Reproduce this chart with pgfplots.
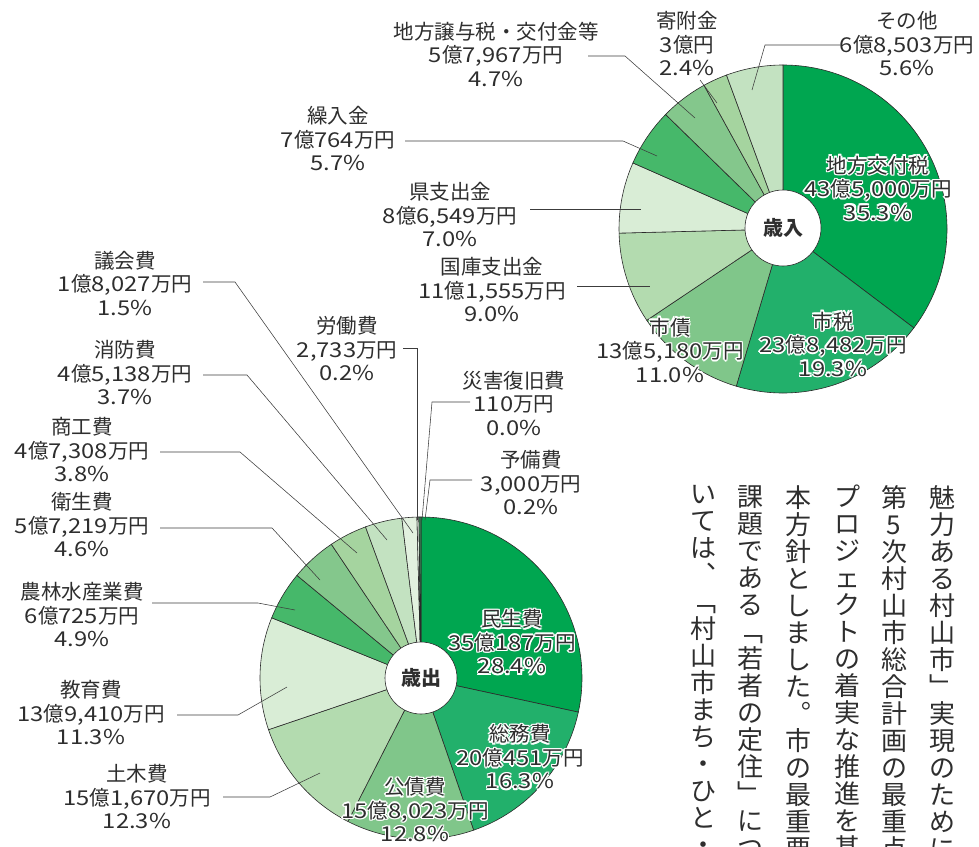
\documentclass[border=0pt]{standalone}
\usepackage{fontspec}
\setmainfont{Noto Sans CJK JP}
\newfontfamily\numf{Noto Sans CJK JP}[FakeStretch=1.16]
\newcommand{\nm}[1]{{\numf #1}}
\usepackage{pgfplots}
\pgfplotsset{compat=1.18}
\definecolor{cA}{HTML}{00A650}
\definecolor{cB}{HTML}{22B06B}
\definecolor{cC}{HTML}{80C68A}
\definecolor{cD}{HTML}{B3DBAF}
\definecolor{cE}{HTML}{D9EDD6}
\definecolor{cF}{HTML}{46B86A}
\definecolor{cG}{HTML}{84C78C}
\definecolor{cH}{HTML}{A5D49F}
\definecolor{cI}{HTML}{C3E2C1}
\definecolor{cJ}{HTML}{E2F1DF}
\definecolor{cK}{HTML}{E8F4E6}
\definecolor{cL}{HTML}{E8F4E6}
\definecolor{cM}{HTML}{3E8E5A}
\definecolor{edge}{HTML}{2A2A2A}
\definecolor{txt}{HTML}{2E2E2E}
\definecolor{lead}{HTML}{3C3C3C}
\tikzset{
  lbl/.style={align=center, inner sep=0pt, text=txt, font=\fontsize{20.5}{23.5}\selectfont},
  ld/.style={draw=lead, line width=0.55pt},
  vt/.style={align=center, inner sep=0pt, text=txt, anchor=north, font=\fontsize{26}{27}\selectfont},
}
\newcommand{\halo}[3]{%
  \node[lbl,text=white] at ([shift={(1.5pt,0pt)}]axis cs:#1,#2) {#3};
  \node[lbl,text=white] at ([shift={(-1.5pt,0pt)}]axis cs:#1,#2) {#3};
  \node[lbl,text=white] at ([shift={(0pt,1.5pt)}]axis cs:#1,#2) {#3};
  \node[lbl,text=white] at ([shift={(0pt,-1.5pt)}]axis cs:#1,#2) {#3};
  \node[lbl,text=white] at ([shift={(1.1pt,1.1pt)}]axis cs:#1,#2) {#3};
  \node[lbl,text=white] at ([shift={(-1.1pt,1.1pt)}]axis cs:#1,#2) {#3};
  \node[lbl,text=white] at ([shift={(1.1pt,-1.1pt)}]axis cs:#1,#2) {#3};
  \node[lbl,text=white] at ([shift={(-1.1pt,-1.1pt)}]axis cs:#1,#2) {#3};
  \node[lbl] at (axis cs:#1,#2) {#3};
}
\begin{document}
\begin{tikzpicture}
\begin{axis}[
  width=979pt, height=846pt, scale only axis,
  xmin=0, xmax=979, ymin=0, ymax=846, y dir=reverse,
  hide axis, clip=false]
% ---- revenue pie (歳入): percentages clockwise from top
\def\angA{90}
\foreach \p/\c in {35.3/cA, 19.3/cB, 11.0/cC, 9.0/cD, 7.0/cE, 5.7/cF, 4.7/cG, 2.4/cH, 5.6/cI} {
  \pgfmathsetmacro\angB{\angA - 3.6*\p}
  \edef\temp{\noexpand\fill[\c, draw=edge, line width=0.6pt] (axis cs:783,229) -- ++(\angA:164pt) arc[start angle=\angA, end angle=\angB, radius=164pt] -- cycle;}
  \temp
  \global\let\angA\angB
}
\fill[white, draw=edge, line width=0.6pt] (axis cs:783,228) circle[radius=38pt];
\node[text=txt, font=\fontsize{20}{22}\selectfont\bfseries] at (axis cs:783,228) {歳入};
% ---- expenditure pie (歳出)
\def\angA{90}
\foreach \p/\c in {28.4/cA, 16.3/cB, 12.8/cC, 12.3/cD, 11.3/cE, 4.9/cF, 4.6/cG, 3.8/cH, 3.7/cI, 1.5/cJ, 0.2/cK, 0.0/cL, 0.2/cM} {
  \pgfmathsetmacro\angB{\angA - 3.6*\p}
  \edef\temp{\noexpand\fill[\c, draw=edge, line width=0.6pt] (axis cs:421,678) -- ++(\angA:161pt) arc[start angle=\angA, end angle=\angB, radius=161pt] -- cycle;}
  \temp
  \global\let\angA\angB
}
\fill[white, draw=edge, line width=0.6pt] (axis cs:421,678) circle[radius=36pt];
\node[text=txt, font=\fontsize{20}{22}\selectfont\bfseries] at (axis cs:421,678) {歳出};
% ---- leaders (revenue)
\draw[ld] (axis cs:588,56) -- (axis cs:625,56) -- (axis cs:695,118);
\draw[ld] (axis cs:700,80) -- (axis cs:717,103);
\draw[ld] (axis cs:840,45) -- (axis cs:765,45) -- (axis cs:752,90);
\draw[ld] (axis cs:405,141) -- (axis cs:623,141) -- (axis cs:657,156);
\draw[ld] (axis cs:530,209) -- (axis cs:641,209);
\draw[ld] (axis cs:577,286) -- (axis cs:650,286);
% ---- leaders (expenditure)
\draw[ld] (axis cs:203,282) -- (axis cs:235,282) -- (axis cs:413,533);
\draw[ld] (axis cs:203,375) -- (axis cs:247,375) -- (axis cs:387,540);
\draw[ld] (axis cs:160,452) -- (axis cs:240,452) -- (axis cs:357,553);
\draw[ld] (axis cs:160,528) -- (axis cs:272,528) -- (axis cs:320,580);
\draw[ld] (axis cs:152,603) -- (axis cs:258,603) -- (axis cs:295,610);
\draw[ld] (axis cs:177,715) -- (axis cs:238,715) -- (axis cs:287,687);
\draw[ld] (axis cs:223,797) -- (axis cs:270,797) -- (axis cs:320,773);
\draw[ld] (axis cs:403,348) -- (axis cs:417,348) -- (axis cs:417,520);
\draw[ld] (axis cs:470,402) -- (axis cs:432,402) -- (axis cs:422,520);
\draw[ld] (axis cs:472,480) -- (axis cs:430,480) -- (axis cs:425,520);
% ---- labels (revenue)
\node[lbl] at (axis cs:496,54) {地方譲与税・交付金等\\\nm{5}億\nm{7,967}万円\\\nm{4.7\%}};
\node[lbl] at (axis cs:687,44) {寄附金\\\nm{3}億円\\\nm{2.4\%}};
\node[lbl] at (axis cs:907,44) {その他\\\nm{6}億\nm{8,503}万円\\\nm{5.6\%}};
\node[lbl] at (axis cs:338,139) {繰入金\\\nm{7}億\nm{764}万円\\\nm{5.7\%}};
\node[lbl] at (axis cs:450,215) {県支出金\\\nm{8}億\nm{6,549}万円\\\nm{7.0\%}};
\node[lbl] at (axis cs:492,290) {国庫支出金\\\nm{11}億\nm{1,555}万円\\\nm{9.0\%}};
\halo{670}{350}{市債\\\nm{13}億\nm{5,180}万円\\\nm{11.0\%}}
\halo{833}{344}{市税\\\nm{23}億\nm{8,482}万円\\\nm{19.3\%}}
\halo{878}{188}{地方交付税\\\nm{43}億\nm{5,000}万円\\\nm{35.3\%}}
% ---- labels (expenditure)
\node[lbl] at (axis cs:125,283) {議会費\\\nm{1}億\nm{8,027}万円\\\nm{1.5\%}};
\node[lbl] at (axis cs:125,373) {消防費\\\nm{4}億\nm{5,138}万円\\\nm{3.7\%}};
\node[lbl] at (axis cs:82,450) {商工費\\\nm{4}億\nm{7,308}万円\\\nm{3.8\%}};
\node[lbl] at (axis cs:82,525) {衛生費\\\nm{5}億\nm{7,219}万円\\\nm{4.6\%}};
\node[lbl] at (axis cs:82,615) {農林水産業費\\\nm{6}億\nm{725}万円\\\nm{4.9\%}};
\node[lbl] at (axis cs:91,713) {教育費\\\nm{13}億\nm{9,410}万円\\\nm{11.3\%}};
\node[lbl] at (axis cs:137,797) {土木費\\\nm{15}億\nm{1,670}万円\\\nm{12.3\%}};
\node[lbl] at (axis cs:347,349) {労働費\\\nm{2,733}万円\\\nm{0.2\%}};
\node[lbl] at (axis cs:514,403) {災害復旧費\\\nm{110}万円\\\nm{0.0\%}};
\node[lbl] at (axis cs:531,483) {予備費\\\nm{3,000}万円\\\nm{0.2\%}};
\halo{512}{642}{民生費\\\nm{35}億\nm{187}万円\\\nm{28.4\%}}
\halo{520}{757}{総務費\\\nm{20}億\nm{451}万円\\\nm{16.3\%}}
\halo{415}{810}{公債費\\\nm{15}億\nm{8,023}万円\\\nm{12.8\%}}
% ---- vertical body text
\node[vt] at (axis cs:942,485) {魅\\力\\あ\\る\\村\\山\\市\\﹂\\実\\現\\の\\た\\め\\に};
\node[vt] at (axis cs:894,485) {第\\5\\次\\村\\山\\市\\総\\合\\計\\画\\の\\最\\重\\点};
\node[vt] at (axis cs:847,485) {プ\\ロ\\ジ\\ェ\\ク\\ト\\の\\着\\実\\な\\推\\進\\を\\基};
\node[vt] at (axis cs:798,485) {本\\方\\針\\と\\し\\ま\\し\\た\\︒\\市\\の\\最\\重\\要};
\node[vt] at (axis cs:750,485) {課\\題\\で\\あ\\る\\﹁\\若\\者\\の\\定\\住\\﹂\\に\\つ};
\node[vt] at (axis cs:703,485) {い\\て\\は\\︑\\﹁\\村\\山\\市\\ま\\ち\\・\\ひ\\と\\・};
\end{axis}
\pgfresetboundingbox
\useasboundingbox (current axis.south west) rectangle (current axis.north east);
\end{tikzpicture}
\end{document}
